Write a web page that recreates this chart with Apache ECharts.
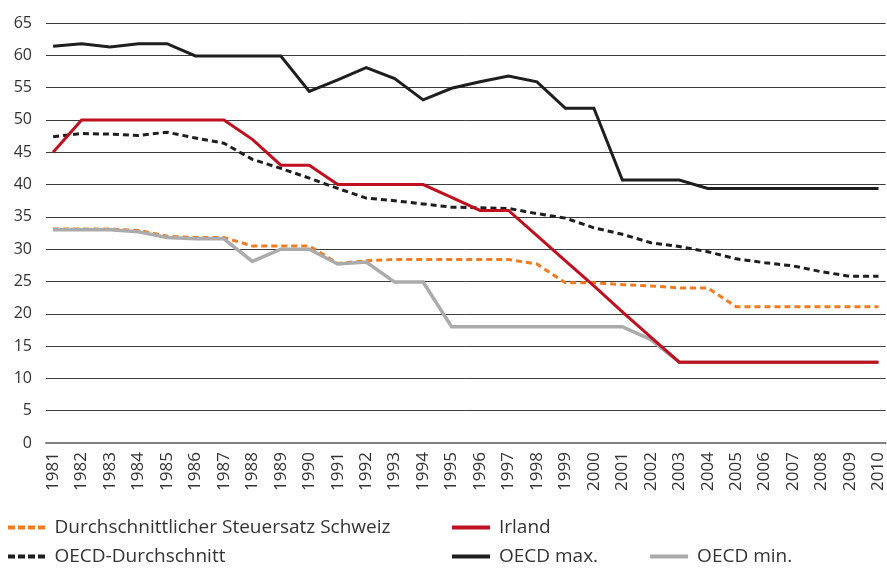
<!DOCTYPE html>
<html>
<head>
<meta charset="utf-8">
<script src="https://cdn.jsdelivr.net/npm/echarts@6/dist/echarts.min.js"></script>
<style>
  html, body { margin: 0; padding: 0; background: #fff; }
  #chart { width: 887px; height: 569px; }
</style>
</head>
<body>
<div id="chart"></div>
<script>
// Jahre 1981-2010
const years = [];
for (let y = 1981; y <= 2010; y++) years.push(y);

// Steuersätze in %
const schweiz = [33.1, 33.1, 33.1, 32.9, 32.0, 31.8, 31.8, 30.5, 30.5, 30.5,
  27.8, 28.2, 28.4, 28.4, 28.4, 28.4, 28.4, 27.7, 24.8, 24.8,
  24.5, 24.3, 24.0, 24.0, 21.1, 21.1, 21.1, 21.1, 21.1, 21.1];
const irland = [45.0, 50.0, 50.0, 50.0, 50.0, 50.0, 50.0, 47.0, 43.0, 43.0,
  40.0, 40.0, 40.0, 40.0, 38.0, 36.0, 36.0, 32.1, 28.2, 24.3,
  20.3, 16.4, 12.5, 12.5, 12.5, 12.5, 12.5, 12.5, 12.5, 12.5];
const oecdAvg = [47.4, 47.9, 47.8, 47.6, 48.1, 47.2, 46.4, 43.9, 42.5, 41.0,
  39.4, 37.9, 37.5, 37.0, 36.5, 36.4, 36.3, 35.5, 34.8, 33.3,
  32.3, 31.0, 30.4, 29.6, 28.5, 27.9, 27.4, 26.5, 25.8, 25.8];
const oecdMax = [61.4, 61.8, 61.3, 61.8, 61.8, 59.9, 59.9, 59.9, 59.9, 54.4,
  56.2, 58.1, 56.4, 53.1, 54.9, 55.9, 56.8, 55.9, 51.8, 51.8,
  40.7, 40.7, 40.7, 39.4, 39.4, 39.4, 39.4, 39.4, 39.4, 39.4];
const oecdMin = [33.0, 33.0, 33.0, 32.7, 31.8, 31.6, 31.6, 28.1, 30.0, 30.0,
  27.7, 28.0, 24.9, 24.9, 18.0, 18.0, 18.0, 18.0, 18.0, 18.0,
  18.0, 16.0, 12.5, 12.5, 12.5, 12.5, 12.5, 12.5, 12.5, 12.5];

const yTicks = [0, 5, 10, 15, 20, 25, 30, 35, 40, 45, 50, 55, 60, 65];

const names = {
  schweiz: 'Durchschnittlicher Steuersatz Schweiz',
  irland: 'Irland',
  avg: 'OECD-Durchschnitt',
  max: 'OECD max.',
  min: 'OECD min.'
};

const FONT = '"Open Sans"';
const TEXT = '#333333';

// Legendensymbole: durchgehender Strich bzw. vier kurze Striche
const ICON_SOLID = 'path://M0,0H38V4H0Z';
const ICON_DASH = 'path://M0,0H7V4H0Z M10,0H17V4H10Z M20,0H27V4H20Z M30,0H37V4H30Z';

function pairs(values) {
  return values.map((v, i) => [years[i], v]);
}

function lineSeries(name, values, color, width, dashed, z) {
  return {
    name,
    type: 'line',
    data: pairs(values),
    symbol: 'none',
    z,
    lineStyle: {
      color,
      width,
      type: dashed ? [6, 4] : 'solid',
      cap: 'butt',
      join: 'miter'
    },
    itemStyle: { color }
  };
}

function item(name, dashed) {
  return { name, icon: dashed ? ICON_DASH : ICON_SOLID };
}

function legend(left, top, data, gap) {
  return {
    left, top,
    data,
    orient: 'horizontal',
    itemWidth: 38,
    itemHeight: 4,
    itemGap: gap || 10,
    padding: 0,
    itemStyle: { borderWidth: 0 },
    lineStyle: { width: 0 },
    textStyle: {
      fontFamily: FONT,
      fontSize: 19,
      color: TEXT,
      padding: [0, 0, 0, 4]
    }
  };
}

const chart = echarts.init(document.getElementById('chart'), null, { renderer: 'canvas' });

chart.setOption({
  animation: false,
  backgroundColor: '#ffffff',
  grid: { left: 46, right: 0, top: 23, bottom: 126, containLabel: false },
  legend: [
    legend(8, 518, [item(names.schweiz, true)]),
    legend(452, 518, [item(names.irland)]),
    legend(8, 547, [item(names.avg, true)]),
    legend(452, 547, [item(names.max), item(names.min)], 52)
  ],
  xAxis: {
    type: 'value',
    min: 1980.75,
    max: 2010.25,
    splitLine: { show: false },
    axisTick: { show: false },
    axisLine: { show: true, lineStyle: { color: '#808080', width: 2 } },
    axisLabel: {
      customValues: years,
      rotate: 90,
      margin: 9,
      fontFamily: FONT,
      fontSize: 17,
      color: TEXT,
      formatter: v => String(v)
    }
  },
  yAxis: {
    type: 'value',
    min: 0,
    max: 65,
    interval: 5,
    axisLine: { show: false },
    axisTick: { show: false },
    axisLabel: {
      margin: 14,
      fontFamily: FONT,
      fontSize: 16,
      color: TEXT,
      formatter: v => (yTicks.includes(v) ? String(v) : '')
    },
    splitLine: { lineStyle: { color: '#3c3c3c', width: 1 } }
  },
  series: [
    lineSeries(names.schweiz, schweiz, '#F47A20', 3, true, 2),
    lineSeries(names.min, oecdMin, '#ABABAB', 3.5, false, 3),
    lineSeries(names.avg, oecdAvg, '#1E1E1E', 3, true, 4),
    lineSeries(names.max, oecdMax, '#1E1E1E', 3, false, 5),
    lineSeries(names.irland, irland, '#C00F1E', 3, false, 6)
  ]
});
</script>
</body>
</html>
